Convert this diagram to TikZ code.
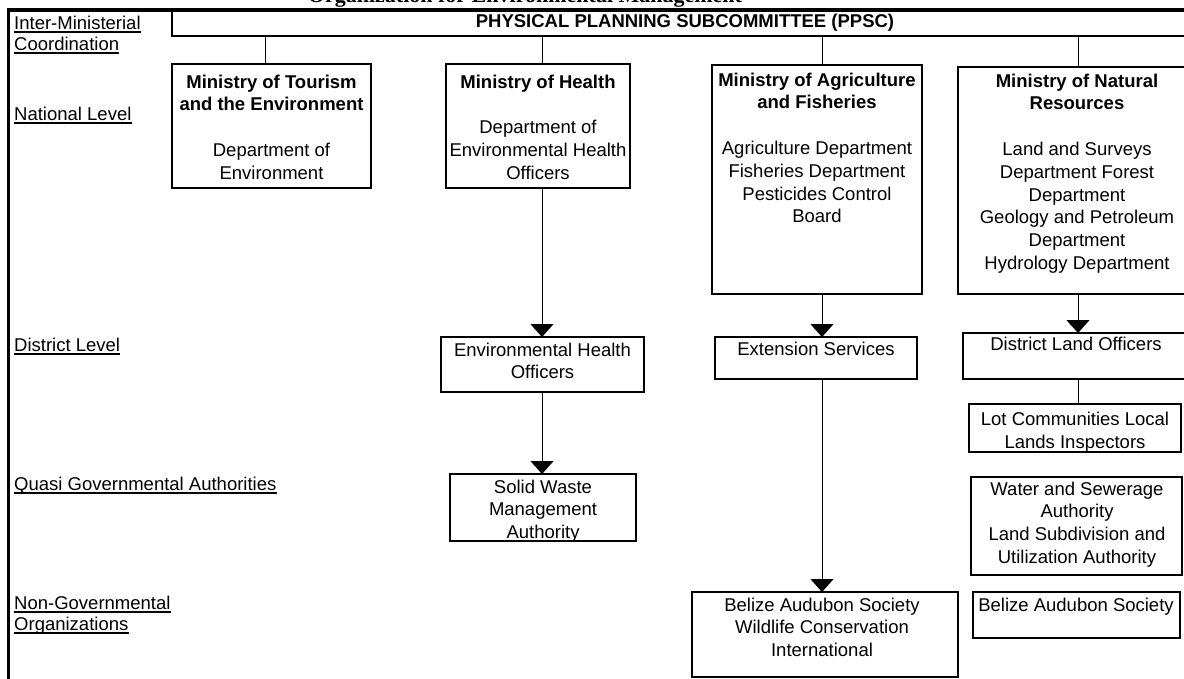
\documentclass[tikz,border=0pt]{standalone}
\usepackage{fontspec}
\setmainfont{Liberation Sans}
\newfontfamily\titlefont{Liberation Serif}
\usetikzlibrary{arrows.meta}
\begin{document}
\begin{tikzpicture}[x=1pt,y=-1pt,
  box/.style={draw, line width=1.2pt, inner sep=0pt, outer sep=0pt, anchor=north west},
  txt/.style={font=\fontsize{18.5}{22.8}\selectfont, align=center, inner sep=0pt, anchor=north},
  lbl/.style={font=\fontsize{18.5}{22}\selectfont, inner sep=0pt, anchor=base west},
  conn/.style={line width=1pt},
  arr/.style={conn, -{Triangle[width=23pt,length=13pt]}},
  ul/.style={line width=1.4pt},
  frame/.style={line width=3.5pt}]
\useasboundingbox (0,0) rectangle (1184,678);
\clip (0,0) rectangle (1184,678);

% cropped title
\node[anchor=base, inner sep=0pt, font=\titlefont\bfseries\fontsize{22}{24}\selectfont] (title) at (525,2.5) {Organization for Environmental Management};

% frame
\draw[frame] (8.5,680) -- (8.5,10) -- (1190,10);

% column coordinates
\coordinate (cT) at (265,0);
\coordinate (cH) at (542,0);
\coordinate (cA) at (822,0);
\coordinate (cN) at (1078,0);

% boxes
\node[box, minimum width=1023pt, minimum height=26pt] (ppsc) at (172,10) {};
\node[box, minimum width=199pt, minimum height=124pt] (tour) at (172,64) {};
\node[box, minimum width=184pt, minimum height=124pt] (health) at (446,64) {};
\node[box, minimum width=210pt, minimum height=229pt] (agri) at (712,65) {};
\node[box, minimum width=237pt, minimum height=227pt] (nr) at (958,67) {};
\node[box, minimum width=203pt, minimum height=55pt] (eho) at (441,337) {};
\node[box, minimum width=202pt, minimum height=42pt] (ext) at (715,337) {};
\node[box, minimum width=232pt, minimum height=46pt] (dlo) at (963,333) {};
\node[box, minimum width=212pt, minimum height=48pt] (lot) at (969,404) {};
\node[box, minimum width=186pt, minimum height=67pt] (sw) at (450,474) {};
\node[box, minimum width=211pt, minimum height=98pt] (ws) at (971,477) {};
\node[box, minimum width=266pt, minimum height=85pt] (ba1) at (692,592) {};
\node[box, minimum width=207pt, minimum height=46pt] (ba2) at (973,592) {};

% texts
\node[txt] (tppsc) at (685,13.5) {\textbf{PHYSICAL PLANNING SUBCOMMITTEE (PPSC)}};
\node[txt] (ttour) at (271.5,74.5) {\textbf{Ministry of Tourism}\\\textbf{and the Environment}\\[22.8pt]Department of\\Environment};
\node[txt] (thealth) at (538,74.5) {\textbf{Ministry of Health}\\[22.8pt]Department of\\Environmental Health\\Officers};
\node[txt] (tagri) at (817,72.5) {\textbf{Ministry of Agriculture}\\\textbf{and Fisheries}\\[22.8pt]Agriculture Department\\Fisheries Department\\Pesticides Control\\Board};
\node[txt] (tnr) at (1077,73.5) {\textbf{Ministry of Natural}\\\textbf{Resources}\\[22.8pt]Land and Surveys\\Department Forest\\Department\\Geology and Petroleum\\Department\\Hydrology Department};
\node[txt] (teho) at (542.5,342.5) {Environmental Health\\Officers};
\node[txt] (text) at (816,342) {Extension Services};
\node[txt] (tdlo) at (1076,336.5) {District Land Officers};
\node[txt] (tlot) at (1075,412) {Lot Communities Local\\Lands Inspectors};
\node[txt] (tsw) at (543,479.5) {Solid Waste\\Management\\Authority};
\node[txt] (tws) at (1077,481.5) {Water and Sewerage\\Authority\\Land Subdivision and\\Utilization Authority};
\node[txt] (tba1) at (822,597.5) {Belize Audubon Society\\Wildlife Conservation\\International};
\node[txt] (tba2) at (1076,597.5) {Belize Audubon Society};

% left labels
\node[lbl] (l1) at (14,29) {Inter-Ministerial};
\node[lbl] (l2) at (14,50) {Coordination};
\node[lbl] (l3) at (14,120) {National Level};
\node[lbl] (l4) at (14,351) {District Level};
\node[lbl] (l5) at (14,490) {Quasi Governmental Authorities};
\node[lbl] (l6) at (14,609) {Non-Governmental};
\node[lbl] (l7) at (14,630) {Organizations};
\foreach \n in {l1,l2,l3,l4,l5,l6,l7}{
  \draw[ul] ([yshift=-2.8pt]\n.base west) -- ([yshift=-2.8pt]\n.base east);
}

% connectors
\draw[conn] (ppsc.south -| cT) -- (tour.north -| cT);
\draw[conn] (ppsc.south -| cH) -- (health.north -| cH);
\draw[conn] (ppsc.south -| cA) -- (agri.north -| cA);
\draw[conn] (ppsc.south -| cN) -- (nr.north -| cN);
\draw[arr] (health.south -| cH) -- (eho.north -| cH);
\draw[arr] (eho.south -| cH) -- (sw.north -| cH);
\draw[arr] (agri.south -| cA) -- (ext.north -| cA);
\draw[arr] (ext.south -| cA) -- (ba1.north -| cA);
\draw[arr] (nr.south -| cN) -- (dlo.north -| cN);
\draw[conn] (dlo.south -| cN) -- (lot.north -| cN);
\end{tikzpicture}
\end{document}
